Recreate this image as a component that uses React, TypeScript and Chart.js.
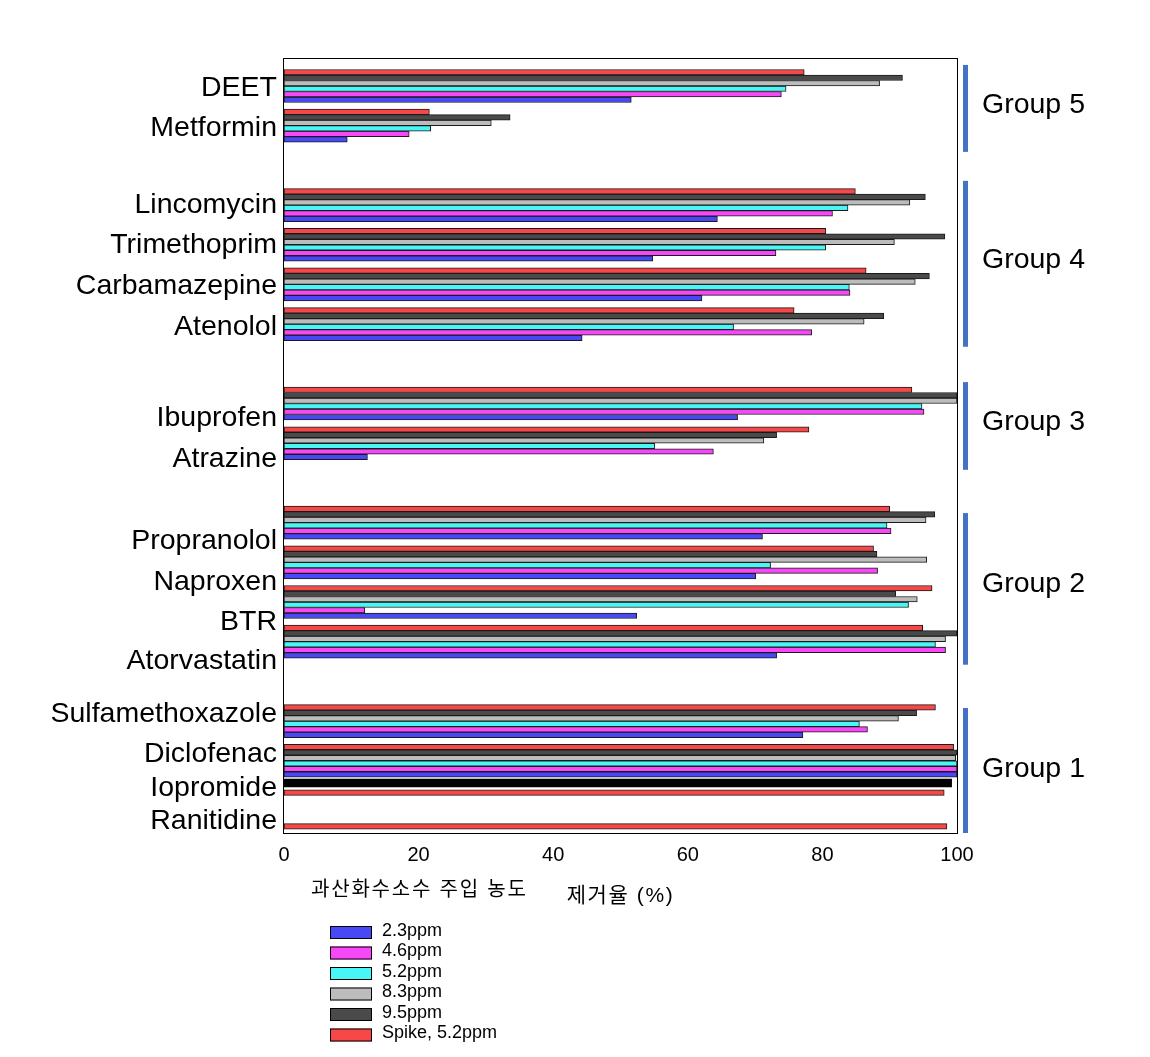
import React, { useEffect, useRef } from 'react';
import { Chart, registerables } from 'chart.js';

Chart.register(...registerables);

// ---- data ----
const compounds = [
  'DEET', 'Metformin',
  'Lincomycin', 'Trimethoprim', 'Carbamazepine', 'Atenolol',
  'Ibuprofen', 'Atrazine',
  'Propranolol', 'Naproxen', 'BTR', 'Atorvastatin',
  'Sulfamethoxazole', 'Diclofenac', 'Iopromide', 'Ranitidine',
];

const ppm23 = [51.6, 9.4, 64.4, 54.8, 62.1, 44.3, 67.4, 12.4, 71.1, 70.1, 52.4, 73.2, 77.1, 100, null, null];
const ppm46 = [73.9, 18.6, 81.5, 73.1, 84.1, 78.4, 95.1, 63.8, 90.2, 88.2, 12.0, 98.3, 86.7, 100, null, null];
const ppm52 = [74.6, 21.8, 83.8, 80.5, 84.0, 66.8, 94.8, 55.1, 89.6, 72.3, 92.8, 96.8, 85.5, 100, null, null];
const ppm83 = [88.5, 30.8, 93.0, 90.7, 93.8, 86.2, 100, 71.3, 95.4, 95.5, 94.1, 98.3, 91.3, 99.8, null, null];
const ppm95 = [91.9, 33.6, 95.3, 98.2, 95.9, 89.1, 100, 73.2, 96.7, 88.1, 90.9, 100, 94.0, 100, null, null];
const spike52 = [77.3, 21.6, 84.9, 80.5, 86.5, 75.8, 93.3, 78.0, 90.0, 87.6, 96.3, 94.9, 96.8, 99.5, 98.1, 98.5];
const iopromideBlack = [99.2];

const seriesLabels = ['2.3ppm', '4.6ppm', '5.2ppm', '8.3ppm', '9.5ppm', 'Spike, 5.2ppm'];
const xTickValues = [0, 20, 40, 60, 80, 100];
const groupNames = ['Group 5', 'Group 4', 'Group 3', 'Group 2', 'Group 1'];
const legendTitle = '과산화수소수 주입 농도';
const xTitle = '제거율 (%)';

// ---- layout (axis units along the category axis) ----
const compoundSlots = [0, 1, 3, 4, 5, 6, 8, 9, 11, 12, 13, 14, 16, 17, 18.15, 19];
const labelSlots = [0.05, 1.06, 2.99, 4.02, 5.03, 6.07, 8.38, 9.39, 11.46, 12.49, 13.5, 14.5, 15.83, 16.84, 17.7, 18.53];
const iopromideBlackSlot = [17.56];
const groupSpans = [[-0.53, 1.66], [2.39, 6.57], [7.46, 9.67], [10.76, 14.58], [15.67, 18.82]];
const groupLabelSlots = [0.47, 4.38, 8.46, 12.56, 17.22];

const seriesColors = ['#4848f6', '#f648f6', '#48f6f6', '#bcbcbc', '#4a4a4a', '#f64848'];
const SANS = "'Liberation Sans', Arial, sans-serif";
const KR = "'Liberation Sans', 'Noto Sans CJK KR', sans-serif";

function points(values: (number | null)[], slots: number[]) {
  const out: { x: number; y: number }[] = [];
  values.forEach((v, i) => {
    if (v !== null && v !== undefined) out.push({ x: v, y: slots[i] });
  });
  return out;
}

const decorPlugin = {
  id: 'decor',
  afterDraw(chart: any) {
    const { ctx, chartArea: a, scales } = chart;
    const ys = scales.y;
    ctx.save();
    // plot frame
    ctx.strokeStyle = '#000';
    ctx.lineWidth = 1;
    ctx.strokeRect(a.left - 0.5, a.top - 0.5, a.right - a.left + 1, a.bottom - a.top + 1);

    // group brackets
    ctx.fillStyle = '#4472c4';
    groupSpans.forEach(([from, to]) => {
      const y1 = ys.getPixelForValue(from);
      const y2 = Math.min(ys.getPixelForValue(to), a.bottom);
      ctx.fillRect(a.right + 6, y1, 5, y2 - y1);
    });
    ctx.fillStyle = '#000';
    ctx.font = `28.5px ${SANS}`;
    ctx.textAlign = 'left';
    ctx.textBaseline = 'middle';
    groupNames.forEach((name, i) => {
      ctx.fillText(name, a.right + 25, ys.getPixelForValue(groupLabelSlots[i]));
    });

    // x title
    ctx.font = `21px ${KR}`;
    ctx.textAlign = 'left';
    try { (ctx as any).letterSpacing = '1.6px'; } catch (e) { /* ignore */ }
    const tw = ctx.measureText(xTitle).width;
    ctx.fillText(xTitle, (a.left + a.right) / 2 - tw / 2, a.bottom + 63);

    // legend title
    ctx.font = `20px ${KR}`;
    try { (ctx as any).letterSpacing = '1.8px'; } catch (e) { /* ignore */ }
    ctx.fillText(legendTitle, a.left + 27, a.bottom + 57);
    try { (ctx as any).letterSpacing = '0px'; } catch (e) { /* ignore */ }

    // legend items
    ctx.font = `18px ${SANS}`;
    seriesLabels.forEach((label, i) => {
      const top = a.bottom + 93 + i * 20.5;
      ctx.fillStyle = seriesColors[i];
      ctx.fillRect(a.left + 46, top, 42, 13);
      ctx.strokeStyle = '#000';
      ctx.lineWidth = 1;
      ctx.strokeRect(a.left + 46.5, top + 0.5, 41, 12);
      ctx.fillStyle = '#000';
      ctx.textAlign = 'left';
      ctx.fillText(label, a.left + 98, top + 5);
    });
    ctx.restore();
  },
};

export default function App() {
  const ref = useRef<HTMLCanvasElement | null>(null);

  useEffect(() => {
    if (!ref.current) return;
    const series = [ppm23, ppm46, ppm52, ppm83, ppm95, spike52];
    // top-to-bottom within a compound: spike, 9.5, 8.3, 5.2, 4.6, 2.3
    const order = [5, 4, 3, 2, 1, 0];
    const datasets: any[] = order.map((k) => ({
      label: seriesLabels[k],
      data: points(series[k], compoundSlots),
      backgroundColor: seriesColors[k],
      borderColor: '#1a1a1a',
      borderWidth: 1,
      borderSkipped: false,
      barThickness: 5.5,
    }));
    datasets.push({
      label: 'Iopromide',
      data: points(iopromideBlack, iopromideBlackSlot),
      backgroundColor: '#000',
      borderColor: '#000',
      borderWidth: 0,
      barThickness: 8,
      grouped: false,
    });

    const chart = new Chart(ref.current, {
      type: 'bar',
      data: { datasets },
      options: {
        indexAxis: 'y',
        animation: false,
        responsive: false,
        layout: { padding: { top: 59, right: 193, left: 0, bottom: 0 } },
        plugins: { legend: { display: false }, tooltip: { enabled: false }, title: { display: false } },
        scales: {
          x: {
            type: 'linear',
            min: 0,
            max: 100,
            offset: false,
            grid: { display: false, drawTicks: false },
            border: { display: false },
            afterBuildTicks: (axis: any) => {
              axis.ticks = xTickValues.map((v) => ({ value: v }));
            },
            afterFit: (s: any) => {
              s.height = 224;
            },
            ticks: { color: '#000', padding: 10, font: { family: SANS, size: 20 } },
          },
          y: {
            type: 'linear',
            reverse: true,
            offset: false,
            min: -0.68,
            max: 18.82,
            grid: { display: false, drawTicks: false },
            border: { display: false },
            afterBuildTicks: (axis: any) => {
              axis.ticks = labelSlots.map((v) => ({ value: v }));
            },
            afterFit: (s: any) => {
              s.width = 284;
            },
            ticks: {
              autoSkip: false,
              color: '#000',
              padding: 7,
              font: { family: SANS, size: 28.5 },
              callback: (_v: any, i: number) => compounds[i],
            },
          },
        },
      },
      plugins: [decorPlugin],
    });
    return () => chart.destroy();
  }, []);

  return (
    <div style={{ position: 'absolute', left: 0, top: 0, width: 1150, height: 1057, background: '#fff' }}>
      <canvas ref={ref} width={1150} height={1057} style={{ display: 'block' }} />
    </div>
  );
}
